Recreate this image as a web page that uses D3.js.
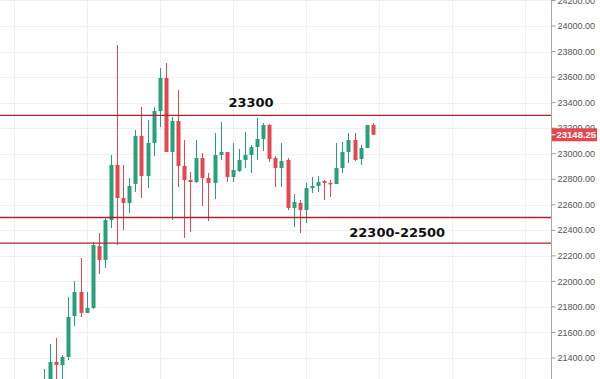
<!DOCTYPE html>
<html><head><meta charset="utf-8">
<script src="https://cdn.jsdelivr.net/npm/d3@7"></script>
<style>html,body{margin:0;padding:0;background:#fff;}svg{display:block;}</style>
</head><body>
<svg id="c" width="600" height="379"></svg>
<script>
const openV  = [21110,21150,21369,21345,21408,21729,21917,21753,21792,22277,22168,22481,22912,22653,22614,22763,23139,22825,23084,23334,23593,23013,23256,22904,22794,22778,22966,22810,22771,22990,23013,22818,22865,22951,22990,23052,23115,23225,22966,22888,22951,22575,22614,22559,22731,22747,22786,22771,22763,22888,23013,23107,22959,23045,23225];
const highV  = [21314,21510,21557,21424,21878,22003,22183,21917,22309,22379,22504,22990,23851,22912,22810,23186,23366,23264,23366,23671,23710,23287,23499,23107,22857,23107,23005,22849,23162,23248,23013,23084,23037,23170,23068,23280,23240,23233,22982,23084,22966,22684,22637,22771,22818,22825,22794,22794,23084,23092,23162,23162,23068,23225,23240];
const lowV   = [21071,21110,21150,21189,21384,21651,21721,21753,21784,22058,22105,22418,22285,22403,22536,22700,22653,22731,22982,23209,23013,22481,22739,22340,22387,22771,22590,22473,22645,22951,22778,22778,22857,22888,22849,22951,23021,22935,22739,22739,22559,22426,22379,22457,22692,22700,22637,22661,22763,22849,22927,22943,22912,23045,23148];
const closeV = [21212,21369,21345,21408,21721,21917,21753,21792,22285,22168,22481,22912,22653,22614,22747,23139,22825,23084,23334,23593,23013,23256,22904,22794,22778,22966,22810,22771,22990,23013,22818,22872,22951,22990,23052,23115,23225,22959,22888,22943,22575,22622,22559,22731,22747,22778,22771,22763,22888,23013,23107,22951,23045,23225,23148.25];
const yTicks = [21400,21600,21800,22000,22200,22400,22600,22800,23000,23200,23400,23600,23800,24000,24200];
const xGrid = [-5,7,19,31,43,55,67,79];
const levels = [23300,22500,22300];
const levelLabels = [{text:"23300", at:23300, idx:34, above:true},{text:"22300-22500", at:22300, idx:58, above:true}];
const lastPrice = 23148.25;

const svg = d3.select("#c");
const W = 600, H = 379, axisX = 551;
const x = d3.scaleLinear().domain([-7.22, 83.25]).range([0, axisX]);
const y = d3.scaleLinear().domain([21400, 24000]).range([358, 26]);
const green = "#26a17c", red = "#e5474f";

svg.append("defs").append("clipPath").attr("id","pc").append("rect")
  .attr("x",0).attr("y",0).attr("width",axisX).attr("height",H);

const grid = svg.append("g");
grid.selectAll("line.h").data(yTicks).join("line")
  .attr("x1",0).attr("x2",axisX).attr("y1",d=>Math.round(y(d))+0.5).attr("y2",d=>Math.round(y(d))+0.5)
  .attr("stroke","#f0f0f0").attr("stroke-width",1);
grid.selectAll("line.v").data(xGrid).join("line")
  .attr("x1",d=>Math.round(x(d))+0.5).attr("x2",d=>Math.round(x(d))+0.5).attr("y1",0).attr("y2",H)
  .attr("stroke","#f0f0f0").attr("stroke-width",1);

const data = openV.map((o,i)=>({i,o,h:highV[i],l:lowV[i],c:closeV[i]}));
const plot = svg.append("g").attr("clip-path","url(#pc)");
const cg = plot.selectAll("g.c").data(data).join("g");
cg.append("line")
  .attr("x1",d=>Math.round(x(d.i))+0.5).attr("x2",d=>Math.round(x(d.i))+0.5)
  .attr("y1",d=>y(d.h)).attr("y2",d=>y(d.l))
  .attr("stroke",d=>d.c>=d.o?green:red).attr("stroke-width",1);
cg.append("rect")
  .attr("x",d=>Math.round(x(d.i))-1.5).attr("width",4)
  .attr("y",d=>y(Math.max(d.o,d.c)))
  .attr("height",d=>Math.max(1.5,Math.abs(y(d.o)-y(d.c))))
  .attr("fill",d=>d.c>=d.o?green:red);

plot.selectAll("line.lvl").data(levels).join("line")
  .attr("x1",0).attr("x2",axisX).attr("y1",d=>y(d)).attr("y2",d=>y(d))
  .attr("stroke","#b3202b").attr("stroke-width",1.4);

svg.selectAll("text.lvl").data(levelLabels).join("text")
  .attr("x",d=>x(d.idx)).attr("y",d=>y(d.at) + (d.at===23300 ? -8 : -6))
  .attr("text-anchor","middle")
  .attr("font-family","DejaVu Sans, Verdana, sans-serif").attr("font-weight","bold").attr("font-size","13px")
  .attr("fill","#111").text(d=>d.text);

// axis
const ax = svg.append("g").attr("transform",`translate(${axisX+0.5},0)`);
ax.append("line").attr("x1",0).attr("x2",0).attr("y1",0).attr("y2",H).attr("stroke","#a8a8a8");
const tk = ax.selectAll("g.t").data(yTicks).join("g").attr("transform",d=>`translate(0,${y(d)})`);
tk.append("line").attr("x1",0).attr("x2",4).attr("stroke","#999");
tk.append("text").attr("x",6).attr("dy","0.35em")
  .attr("font-family","Liberation Sans, Arial, sans-serif").attr("font-size","9px")
  .attr("fill","#555").text(d=>d3.format(".2f")(d));

const pb = ax.append("g").attr("transform",`translate(0,${y(lastPrice)})`);
pb.append("rect").attr("x",0.5).attr("y",-6.5).attr("width",45).attr("height",13).attr("fill","#e5474f");
pb.append("line").attr("x1",0).attr("x2",4).attr("stroke","#fff");
pb.append("text").attr("x",5).attr("dy","0.35em")
  .attr("font-family","Liberation Sans, Arial, sans-serif").attr("font-size","9.5px").attr("font-weight","bold")
  .attr("fill","#fff").text(d3.format(".2f")(lastPrice));
</script>
</body></html>
